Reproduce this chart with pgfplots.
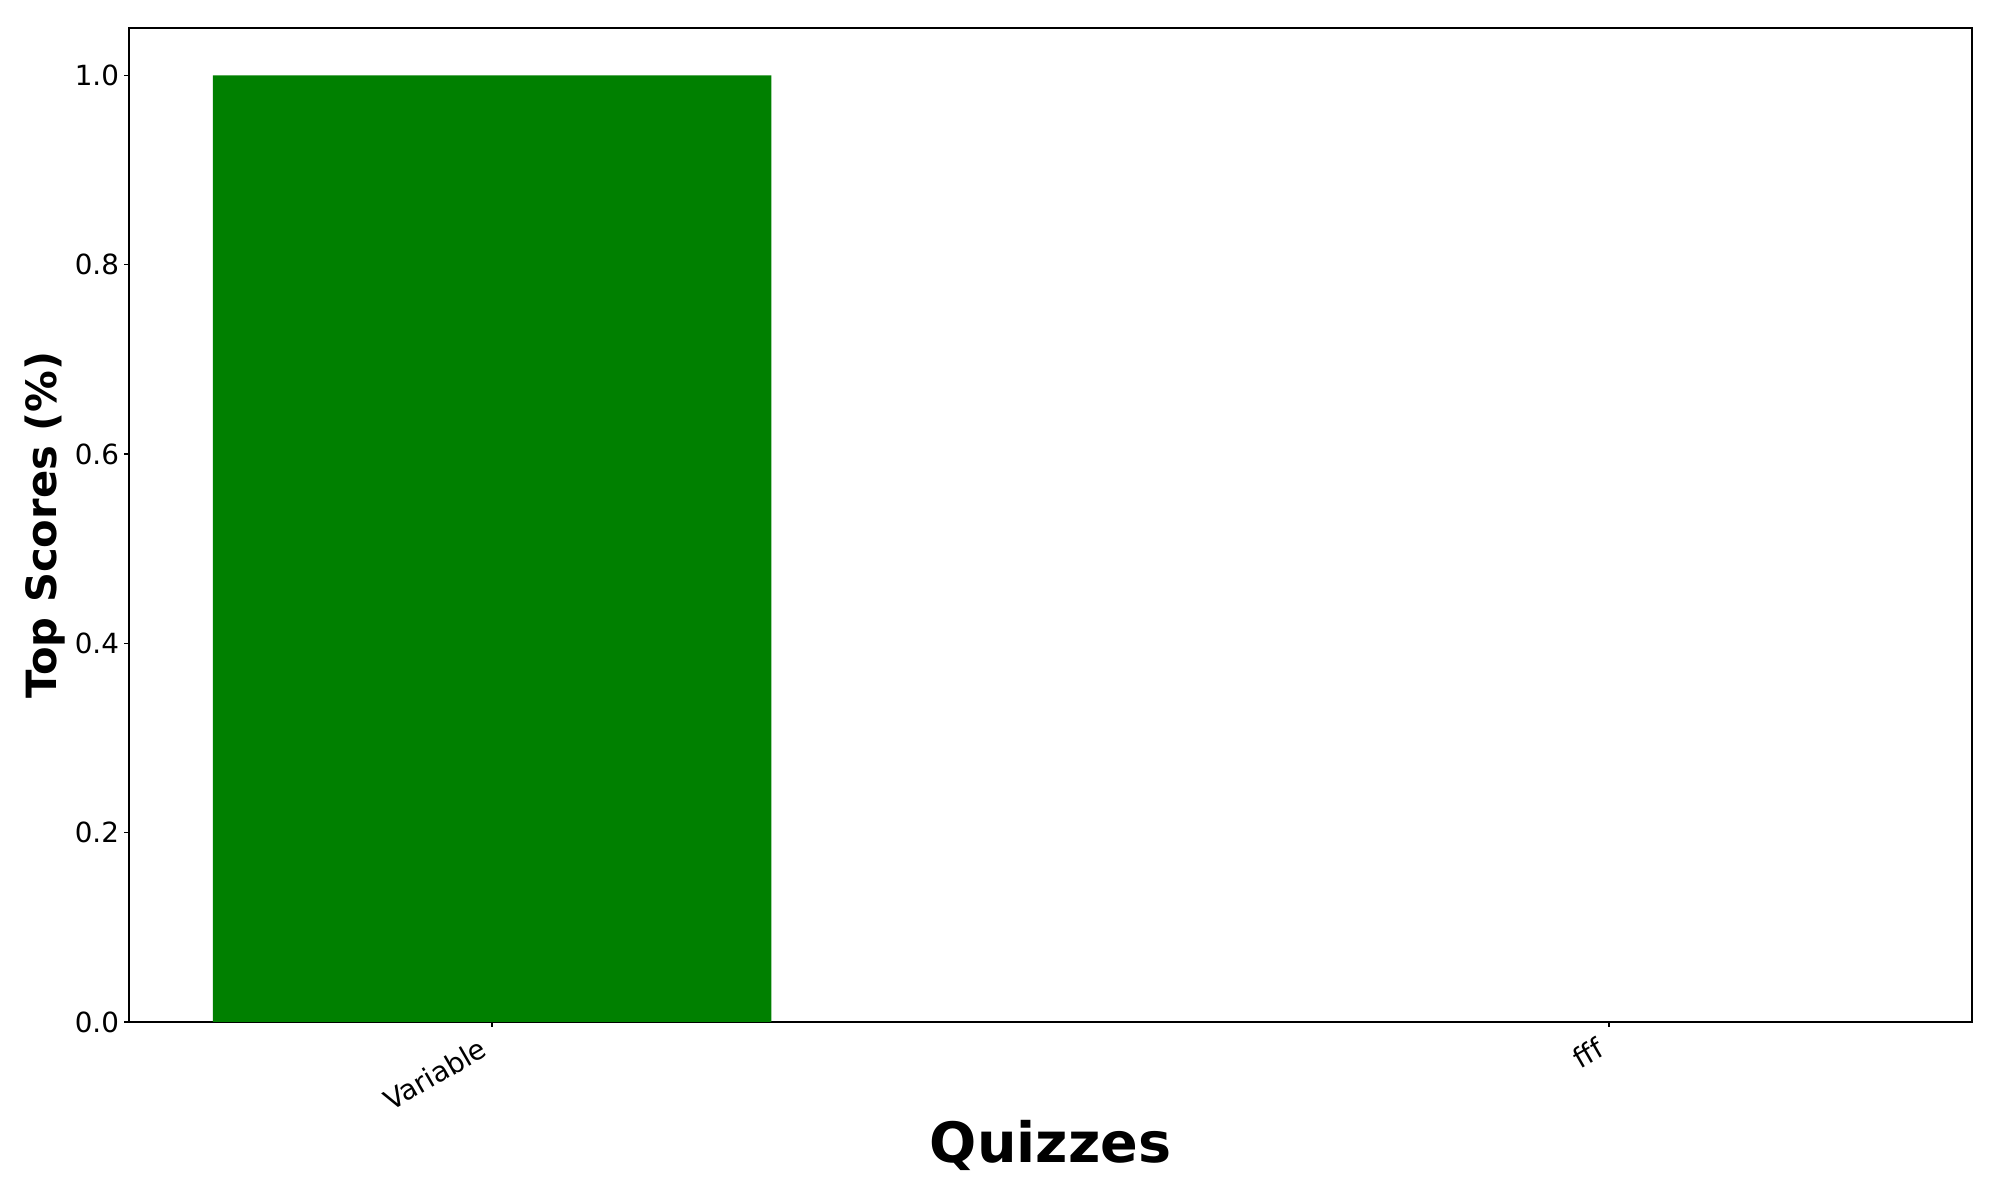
\documentclass[border=0pt]{standalone}
\usepackage{fontspec}
\setmainfont{DejaVu Sans}
\usepackage{pgfplots}
\pgfplotsset{compat=1.18}
\definecolor{barGreen}{RGB}{0,128,0}

\begin{document}
\begin{tikzpicture}
% 2000x1200 px at 100 dpi: 1 px = 0.72bp
\path[use as bounding box] (0,0) rectangle (1440bp,864bp);
\begin{axis}[
  at={(92.88bp,128.16bp)}, anchor=south west,
  scale only axis,
  width=1326.96bp, height=715.68bp,
  xmin=-0.325, xmax=1.325,
  ymin=0, ymax=1.05,
  xtick={0,1},
  xticklabels={Variable, fff},
  ytick={0,0.2,0.4,0.6,0.8,1.0},
  yticklabel style={/pgf/number format/fixed, /pgf/number format/fixed zerofill, /pgf/number format/precision=1, inner sep=3.5bp},
  /pgf/number format/assume math mode=true,
  xtick pos=lower, ytick pos=left,
  tick align=outside,
  major tick length=3.5bp,
  tick style={line width=0.8bp, black},
  axis line style={line width=0.8bp},
  ticklabel style={font=\fontsize{20bp}{24bp}\selectfont},
  xticklabel style={rotate=30, anchor=north east, inner sep=2bp, xshift=-10bp, yshift=1bp},
  xlabel={\bfseries Quizzes},
  ylabel={\bfseries Top Scores (\%)},
  xlabel style={font=\fontsize{40bp}{48bp}\selectfont, at={(axis description cs:0.5,0)}, anchor=base, yshift=-100.8bp},
  ylabel style={font=\fontsize{30bp}{36bp}\selectfont, at={(axis description cs:0,0.5)}, anchor=center, yshift=60.5bp},
]
\addplot[ybar, bar width=0.5, fill=barGreen, draw=none] coordinates {(0,1) (1,0)};
\end{axis}
\end{tikzpicture}
\end{document}
